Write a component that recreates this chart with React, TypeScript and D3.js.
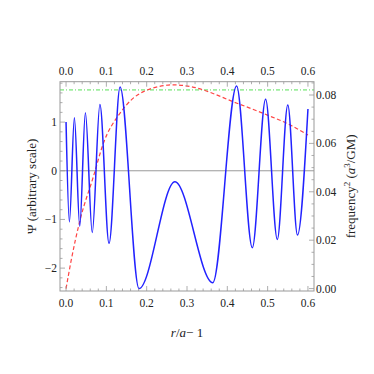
import React from 'react';
import * as d3 from 'd3';

// Psi extrema (x = r/a - 1)
const psiX = [0, 0.0083, 0.0207, 0.034, 0.048, 0.065, 0.084, 0.1066, 0.134, 0.181, 0.27, 0.364, 0.423, 0.462, 0.495, 0.524, 0.55, 0.574, 0.6];
const psiY = [1.0, -1.05, 1.09, -1.14, 1.19, -1.27, 1.36, -1.49, 1.72, -2.42, -0.226, -2.3, 1.74, -1.58, 1.47, -1.41, 1.35, -1.32, 1.27];

// frequency^2 curve (red dashed)
const freqX = [0, 0.012, 0.0347, 0.0677, 0.0925, 0.134, 0.192, 0.267, 0.308, 0.424, 0.498, 0.556, 0.6];
const freqY = [0, 0.011, 0.0283, 0.0462, 0.06, 0.0725, 0.0814, 0.0842, 0.0835, 0.0766, 0.0718, 0.0676, 0.0635];

// green reference level
const greenLevel = 0.0821;

const xTicks = [0, 0.1, 0.2, 0.3, 0.4, 0.5, 0.6];
const leftTicks = [-2, -1, 0, 1];
const rightTicks = [0, 0.02, 0.04, 0.06, 0.08];

const W = 374;
const H = 374;
const L = 60, R = 314, T = 81.7, B = 291;
const font = '"Liberation Serif", "DejaVu Serif", serif';
const gray = '#999';

export default function App() {
  const x = d3.scaleLinear().domain([-0.015, 0.615]).range([L, R]);
  const yL = d3.scaleLinear().domain([-2.47, 1.83]).range([B, T]);
  const yR = d3.scaleLinear().domain([-0.001, 0.0855]).range([B, T]);

  const psiLine = d3.line<number>()
    .x((_, i) => x(psiX[i]))
    .y((d) => yL(d))
    .curve(d3.curveMonotoneX);
  const freqLine = d3.line<number>()
    .x((_, i) => x(freqX[i]))
    .y((d) => yR(d))
    .curve(d3.curveMonotoneX);

  const minorX = d3.range(0, 31).map(i => i * 0.02).filter(v => Math.abs(v * 10 - Math.round(v * 10)) > 1e-6);
  const minorL = d3.range(-12, 10).map(i => i * 0.2).filter(v => Math.abs(v - Math.round(v)) > 1e-6);
  const minorR = d3.range(0, 18).map(i => i * 0.005).filter(v => Math.abs(v * 50 - Math.round(v * 50)) > 1e-6);

  return (
    <svg width={W} height={H} style={{ position: 'absolute', left: 0, top: 0 }} fontFamily={font}>
      <rect x={0} y={0} width={W} height={H} fill="white" />
      {/* zero line */}
      <line x1={L} x2={R} y1={yL(0)} y2={yL(0)} stroke={gray} strokeWidth={1} />
      {/* green level */}
      <line x1={L} x2={R} y1={yR(greenLevel)} y2={yR(greenLevel)} stroke="#44dd44" strokeWidth={0.9} strokeDasharray="4,2,1,2" />
      {/* curves */}
      <path d={freqLine(freqY) || ''} fill="none" stroke="#ff4444" strokeWidth={1.2} strokeDasharray="4,2.5" />
      <path d={psiLine(psiY) || ''} fill="none" stroke="#2222ff" strokeWidth={1.5} />

      {/* frame */}
      <rect x={L} y={T} width={R - L} height={B - T} fill="none" stroke={gray} strokeWidth={1} />

      {/* x ticks top & bottom */}
      <g stroke={gray} strokeWidth={0.8}>
        {xTicks.map(v => (
          <g key={'xt' + v}>
            <line x1={x(v)} x2={x(v)} y1={B} y2={B - 5} />
            <line x1={x(v)} x2={x(v)} y1={T} y2={T + 5} />
          </g>
        ))}
        {minorX.map(v => (
          <g key={'xm' + v}>
            <line x1={x(v)} x2={x(v)} y1={B} y2={B - 2.5} />
            <line x1={x(v)} x2={x(v)} y1={T} y2={T + 2.5} />
          </g>
        ))}
        {leftTicks.map(v => (
          <line key={'lt' + v} x1={L} x2={L + 5} y1={yL(v)} y2={yL(v)} />
        ))}
        {minorL.map(v => (
          <line key={'lm' + v} x1={L} x2={L + 2.5} y1={yL(v)} y2={yL(v)} />
        ))}
        {rightTicks.map(v => (
          <line key={'rt' + v} x1={R} x2={R - 5} y1={yR(v)} y2={yR(v)} />
        ))}
        {minorR.map(v => (
          <line key={'rm' + v} x1={R} x2={R - 2.5} y1={yR(v)} y2={yR(v)} />
        ))}
      </g>

      {/* tick labels */}
      <g fontSize={11.5} fill="#222">
        {xTicks.map(v => (
          <text key={'xb' + v} x={x(v)} y={307} textAnchor="middle">{d3.format('.1f')(v)}</text>
        ))}
        {xTicks.map(v => (
          <text key={'xtl' + v} x={x(v)} y={75} textAnchor="middle">{d3.format('.1f')(v)}</text>
        ))}
        {leftTicks.map(v => (
          <text key={'ll' + v} x={57} y={yL(v) + 4} textAnchor="end">{v < 0 ? '\u2212' + Math.abs(v) : String(v)}</text>
        ))}
        {rightTicks.map(v => (
          <text key={'rl' + v} x={316} y={yR(v) + 4} textAnchor="start">{d3.format('.2f')(v)}</text>
        ))}
      </g>

      {/* axis titles */}
      <text x={x(0.3)} y={337} textAnchor="middle" fontSize={13} fill="#222">
        <tspan fontStyle="italic">r</tspan>/<tspan fontStyle="italic">a</tspan>{'\u2212 1'}
      </text>
      <text transform={`translate(36,${(T + B) / 2}) rotate(-90)`} textAnchor="middle" fontSize={13} fill="#222">
        {'\u03A8 (arbitrary scale)'}
      </text>
      <text transform={`translate(355,${(T + B) / 2}) rotate(-90)`} textAnchor="middle" fontSize={13} fill="#222">
        frequency<tspan dy={-5} fontSize={9}>2</tspan><tspan dy={5}> (</tspan><tspan fontStyle="italic">a</tspan><tspan dy={-5} fontSize={9}>3</tspan><tspan dy={5}>/GM)</tspan>
      </text>
    </svg>
  );
}
